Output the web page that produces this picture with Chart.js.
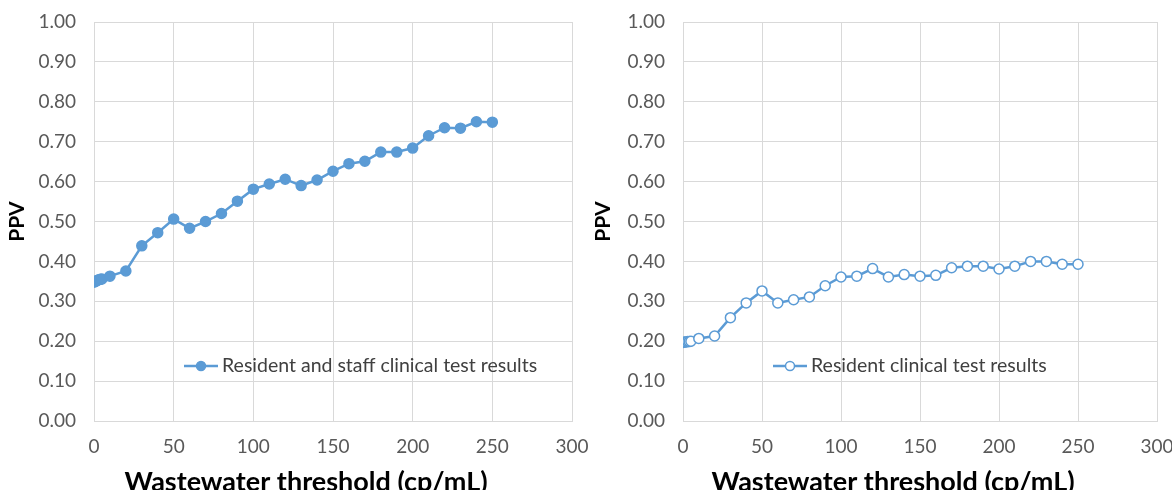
<!DOCTYPE html>
<html>
<head>
<meta charset="utf-8">
<script src="https://cdn.jsdelivr.net/npm/chart.js@4/dist/chart.umd.min.js"></script>
<style>
  body { margin: 0; background: #fff; overflow: hidden; }
  .wrap { position: relative; width: 1172px; height: 490px; }
  .box { position: absolute; top: 0; height: 490px; }
  #leftBox { left: 0; width: 600px; }
  #rightBox { left: 586px; width: 586px; }
</style>
</head>
<body>
<div class="wrap">
  <div class="box" id="leftBox"><canvas id="left"></canvas></div>
  <div class="box" id="rightBox"><canvas id="right"></canvas></div>
</div>
<script>
const thresholds = [0, 1, 2, 3, 4, 5, 10, 20, 30, 40, 50, 60, 70, 80, 90, 100, 110, 120, 130, 140,
  150, 160, 170, 180, 190, 200, 210, 220, 230, 240, 250]

const staffPPV = [0.348, 0.350, 0.352, 0.354, 0.355, 0.356, 0.363, 0.376, 0.439, 0.472, 0.506,
  0.483, 0.500, 0.520, 0.551, 0.581, 0.594, 0.606, 0.590, 0.604, 0.626, 0.645, 0.651, 0.674,
  0.674, 0.684, 0.715, 0.735, 0.734, 0.750, 0.749]

const residentPPV = [0.197, 0.198, 0.198, 0.199, 0.199, 0.200, 0.207, 0.213, 0.259, 0.296, 0.326,
  0.296, 0.304, 0.311, 0.339, 0.361, 0.363, 0.382, 0.361, 0.367, 0.363, 0.365, 0.384, 0.388,
  0.388, 0.381, 0.388, 0.400, 0.400, 0.393, 0.393]

const yTicks = [0, 0.1, 0.2, 0.3, 0.4, 0.5, 0.6, 0.7, 0.8, 0.9, 1.0]
const xTicks = [0, 50, 100, 150, 200, 250, 300]
const xTitle = 'Wastewater threshold (cp/mL)'

const blue = '#5b9bd5'
const tickColor = '#595959'
const gridColor = '#d9d9d9'
const fontFamily = 'Lato, "Open Sans", sans-serif'

// legend inside the plot area and the x title a bit left of centre, like the original
const extras = {
  id: 'extras',
  afterDraw(chart) {
    const ds = chart.data.datasets[0]
    const { ctx, chartArea } = chart
    const x = chartArea.left + 90
    const y = chartArea.bottom - 55
    ctx.save()
    ctx.strokeStyle = blue
    ctx.lineWidth = 2.5
    ctx.beginPath()
    ctx.moveTo(x, y)
    ctx.lineTo(x + 34, y)
    ctx.stroke()
    ctx.beginPath()
    ctx.arc(x + 17, y, 4.5, 0, Math.PI * 2)
    ctx.fillStyle = ds.pointBackgroundColor
    ctx.fill()
    ctx.lineWidth = 1.5
    ctx.stroke()
    ctx.fillStyle = '#404040'
    ctx.font = '19.5px ' + fontFamily
    ctx.textBaseline = 'middle'
    ctx.fillText(ds.label, x + 38, y)

    ctx.fillStyle = '#000'
    ctx.font = 'bold 27px ' + fontFamily
    ctx.textAlign = 'center'
    ctx.textBaseline = 'alphabetic'
    ctx.fillText(xTitle, (chartArea.left + chartArea.right) / 2 - 27, 491)
    ctx.restore()
  }
}

function makeChart(id, label, values, filled, yAxisWidth, rightPad) {
  return new Chart(document.querySelector(id), {
    type: 'line',
    plugins: [extras],
    data: {
      datasets: [
        {
          label: label,
          data: thresholds.map((t, i) => ({ x: t, y: values[i] })),
          borderColor: blue,
          borderWidth: 2.5,
          pointRadius: 5,
          pointBorderWidth: 1.5,
          pointBorderColor: blue,
          pointBackgroundColor: filled ? blue : '#ffffff',
          tension: 0
        }
      ]
    },
    options: {
      responsive: true,
      maintainAspectRatio: false,
      animation: false,
      layout: {
        padding: { top: 22, right: 0, left: 0, bottom: 0 }
      },
      scales: {
        x: {
          type: 'linear',
          min: 0,
          max: 300,
          afterBuildTicks: axis => { axis.ticks = xTicks.map(v => ({ value: v })) },
          afterFit: axis => {
            axis.height = 69
            axis.paddingLeft = 0
            axis.paddingRight = rightPad
          },
          border: { color: gridColor },
          grid: { color: gridColor, drawTicks: false },
          ticks: {
            color: tickColor,
            padding: 14,
            font: { family: fontFamily, size: 19 }
          }
        },
        y: {
          min: 0,
          max: 1,
          afterBuildTicks: axis => { axis.ticks = yTicks.map(v => ({ value: v })) },
          afterFit: axis => {
            axis.width = yAxisWidth
            axis.paddingTop = 0
            axis.paddingBottom = 0
          },
          border: { color: gridColor },
          grid: { color: gridColor, drawTicks: false },
          ticks: {
            color: tickColor,
            padding: 18,
            font: { family: fontFamily, size: 19 },
            callback: v => v.toFixed(2)
          },
          title: {
            display: true,
            text: 'PPV',
            color: '#000',
            padding: { top: 5, bottom: 0 },
            font: { family: fontFamily, size: 21, weight: 'bold' }
          }
        }
      },
      plugins: {
        legend: { display: false },
        tooltip: { enabled: false }
      }
    }
  })
}

makeChart('#left', 'Resident and staff clinical test results', staffPPV, true, 94, 28)
makeChart('#right', 'Resident clinical test results', residentPPV, false, 97, 15)
</script>
</body>
</html>
